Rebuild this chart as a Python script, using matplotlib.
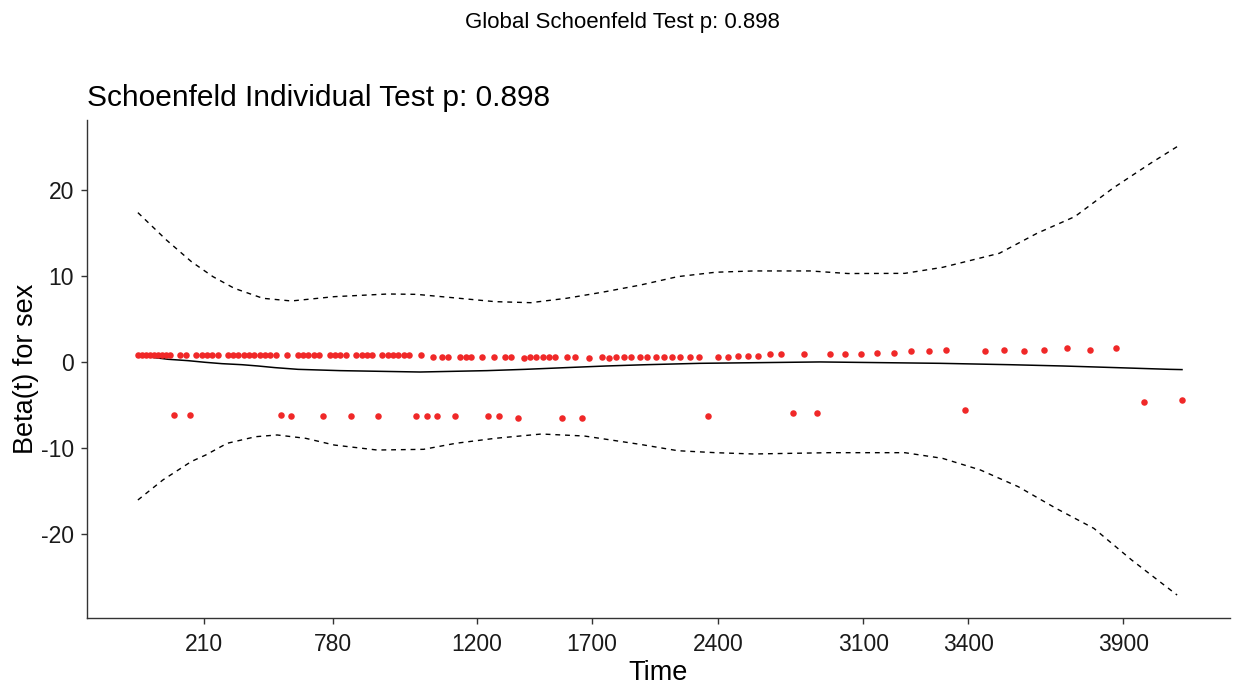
import numpy as np
import matplotlib
matplotlib.use("Agg")
import matplotlib.pyplot as plt

plt.rcParams['font.family'] = ['Liberation Sans', 'DejaVu Sans']

# x positions are on the transformed time scale (as drawn by the original plot)
tick_pos = [203.6, 332.6, 476.8, 591.6, 718.3, 863.1, 968.3, 1123.4]
tick_labels = ["210", "780", "1200", "1700", "2400", "3100", "3400", "3900"]

# scaled Schoenfeld residuals, upper cluster
resid_hi_t = [137.7, 141.7, 145.7, 149.7, 153.7, 157.7, 161.7, 165.7, 169.7,
              179.7, 185.7, 196.3, 201.7, 207.0, 212.3, 217.7,
              227.7, 233.0, 238.3, 243.7, 249.0, 254.3, 259.7, 265.0, 270.3, 275.7,
              287.0, 297.7, 303.0, 308.3, 313.7, 319.0,
              329.7, 335.0, 340.3, 345.7, 356.3, 361.7, 367.0, 372.3,
              382.3, 387.7, 393.0, 398.3, 403.7, 409.0, 421.0,
              433.0, 442.3, 447.7, 460.3, 465.7, 471.0, 482.3, 494.3,
              505.0, 511.0, 523.7, 529.7, 535.7, 542.7, 548.7, 554.7,
              567.3, 574.7, 588.7, 602.0, 609.3, 616.3, 623.7, 631.0, 639.7,
              647.0, 655.7, 664.3, 671.7, 680.3, 690.3, 699.0, 717.7, 727.7,
              738.0, 748.3, 758.3, 770.0, 781.3, 804.3, 830.3, 845.3, 861.0,
              876.7, 894.0, 911.3, 928.7, 946.0, 985.0, 1003.7, 1024.0,
              1044.3, 1067.3, 1090.3, 1116.3]
resid_hi_v = [0.74, 0.74, 0.74, 0.74, 0.74, 0.74, 0.74, 0.74, 0.74,
              0.74, 0.74, 0.74, 0.74, 0.74, 0.74, 0.74,
              0.74, 0.74, 0.74, 0.74, 0.74, 0.74, 0.74, 0.74, 0.74, 0.74,
              0.74, 0.74, 0.74, 0.74, 0.74, 0.74,
              0.74, 0.74, 0.74, 0.74, 0.74, 0.74, 0.74, 0.74,
              0.74, 0.74, 0.74, 0.74, 0.74, 0.74, 0.74,
              0.58, 0.58, 0.58, 0.58, 0.58, 0.58, 0.58, 0.58,
              0.55, 0.55, 0.39, 0.55, 0.55, 0.55, 0.55, 0.55,
              0.55, 0.55, 0.39, 0.55, 0.39, 0.55, 0.55, 0.55, 0.55,
              0.55, 0.55, 0.55, 0.55, 0.55, 0.55, 0.55, 0.55, 0.55,
              0.70, 0.70, 0.70, 0.86, 0.86, 0.86, 0.86, 0.86, 0.86,
              1.05, 1.05, 1.21, 1.21, 1.40, 1.21, 1.40, 1.21,
              1.40, 1.55, 1.40, 1.55]

# lower cluster
resid_lo_t = [174.3, 190.3, 281.0, 291.0, 323.0, 350.7, 378.0, 415.7, 427.0,
              437.3, 454.7, 487.7, 499.0, 518.3, 561.7, 582.0, 707.7, 792.7,
              817.3, 965.0, 1144.0, 1181.7]
resid_lo_v = [-6.16, -6.16, -6.16, -6.35, -6.35, -6.35, -6.35, -6.35, -6.35,
              -6.35, -6.35, -6.35, -6.35, -6.51, -6.51, -6.51, -6.35, -6.0,
              -6.0, -5.65, -4.69, -4.49]

# fitted beta(t)
fit_t = [137.0, 152.0, 168.0, 188.0, 205.0, 222.0, 242.0, 258.0, 275.0, 298.0,
         340.0, 420.0, 487.0, 525.0, 566.0, 606.0, 646.0, 700.0, 820.0,
         940.0, 1010.0, 1063.0, 1116.0, 1170.0, 1182.0]
fit_v = [0.6, 0.51, 0.28, 0.12, -0.07, -0.23, -0.35, -0.5, -0.69, -0.89,
         -1.04, -1.2, -1.04, -0.89, -0.69, -0.5, -0.35, -0.19, -0.03,
         -0.19, -0.35, -0.5, -0.69, -0.89, -0.92]

# confidence band
ci_hi_t = [137.9, 166.4, 191.4, 212.9, 234.3, 262.9, 291.4, 334.3, 387.9, 416.4,
           459.3, 495.0, 530.7, 566.4, 602.1, 640.0, 677.8, 715.6, 753.5, 810.2,
           848.0, 904.8, 942.6, 999.3, 1037.1, 1074.9, 1112.8, 1150.6, 1177.1]
ci_hi_v = [17.33, 14.15, 11.63, 9.89, 8.53, 7.37, 7.06, 7.56, 7.87, 7.83,
           7.37, 6.98, 6.86, 7.37, 8.07, 8.9, 9.89, 10.4, 10.55, 10.55,
           10.25, 10.27, 10.97, 12.6, 14.93, 16.87, 20.16, 23.07, 25.0]
ci_lo_t = [137.9, 162.9, 191.4, 205.7, 227.1, 255.7, 277.1, 305.7, 334.3, 377.1,
           423.6, 455.7, 495.0, 541.4, 584.3, 640.0, 677.8, 715.6, 753.5, 829.1,
           904.8, 942.6, 980.4, 1018.2, 1056.0, 1093.9, 1131.7, 1177.1]
ci_lo_v = [-16.08, -13.75, -11.6, -10.85, -9.49, -8.72, -8.52, -8.91, -9.69, -10.27,
           -10.19, -9.49, -8.91, -8.41, -8.64, -9.61, -10.35, -10.58, -10.73, -10.58,
           -10.58, -11.24, -12.59, -14.53, -17.05, -19.38, -23.06, -27.13]

W, H = 1233, 684
fig = plt.figure(figsize=(W / 100, H / 100), dpi=100)
ax = fig.add_axes([87 / W, (H - 618) / H, (1230 - 87) / W, (618 - 120) / H])

ax.plot(fit_t, fit_v, color='black', lw=1.1)
ax.plot(ci_hi_t, ci_hi_v, color='black', lw=1.0, linestyle=(0, (3.5, 3.5)))
ax.plot(ci_lo_t, ci_lo_v, color='black', lw=1.0, linestyle=(0, (3.5, 3.5)))
ax.scatter(resid_hi_t, resid_hi_v, s=22, color='#F02828', linewidths=0, zorder=3)
ax.scatter(resid_lo_t, resid_lo_v, s=22, color='#F02828', linewidths=0, zorder=3)

ax.set_xlim(87, 1230)
ax.set_ylim(-29.8, 28.1)
ax.set_xticks(tick_pos)
ax.set_xticklabels(tick_labels)
ax.set_yticks([-20, -10, 0, 10, 20])
ax.set_yticklabels(["-20", "-10", "0", "10", "20"])

for side in ['top', 'right']:
    ax.spines[side].set_visible(False)
for side in ['left', 'bottom']:
    ax.spines[side].set_color('#333333')
    ax.spines[side].set_linewidth(1.0)
ax.tick_params(axis='both', colors='#333333', labelcolor='#1a1a1a',
               labelsize=16.5, length=4.5, width=1.0)
ax.tick_params(axis='x', pad=6)
ax.tick_params(axis='y', pad=5)

ax.set_xlabel("Time", fontsize=19.5, labelpad=3)
ax.set_ylabel("Beta(t) for sex", fontsize=19.5, labelpad=1)

fig.text(87 / W, 1 - 106 / H, "Schoenfeld Individual Test p: 0.898",
         fontsize=21.5, ha='left', va='baseline')
fig.text(622 / W, 1 - 28 / H, "Global Schoenfeld Test p: 0.898",
         fontsize=16, ha='center', va='baseline')

fig.savefig("out.png", dpi=100)
